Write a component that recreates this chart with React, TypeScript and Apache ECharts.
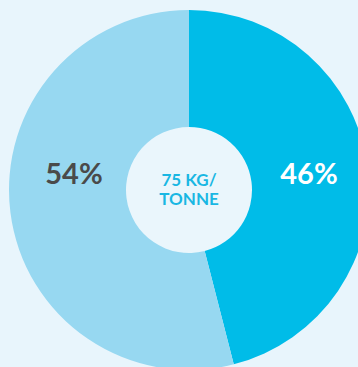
import React, { useEffect, useRef } from "react";
import * as echarts from "echarts";

const categories = ["Share A", "Share B"];
const shareValues = [46, 54];
const sliceColors = ["#00bce8", "#97d8f1"];
const labelColors = ["#ffffff", "#4a4a4a"];
const centerLines = ["75 KG/", "TONNE"];

export default function App() {
  const ref = useRef<HTMLDivElement>(null);
  useEffect(() => {
    document.body.style.margin = "0";
    const chart = echarts.init(ref.current!, null, { renderer: "svg" });
    const labelPos = [
      [309, 172],
      [74, 172],
    ];
    chart.setOption({
      animation: false,
      backgroundColor: "#e8f5fc",
      series: [
        {
          type: "pie",
          center: [189, 190],
          radius: [63, 180],
          startAngle: 90,
          clockwise: true,
          label: { show: false },
          labelLine: { show: false },
          emphasis: { disabled: true },
          itemStyle: { borderWidth: 0 },
          data: categories.map((c, i) => ({
            name: c,
            value: shareValues[i],
            itemStyle: { color: sliceColors[i] },
          })),
        },
      ],
      graphic: [
        {
          type: "circle",
          shape: { cx: 189, cy: 190, r: 63 },
          style: { fill: "#eaf6fc" },
          z: -1,
        },
        ...shareValues.map((v, i) => ({
          type: "text",
          x: labelPos[i][0],
          y: labelPos[i][1],
          z: 100,
          style: {
            text: v + "%",
            fill: labelColors[i],
            font: "bold 29px Lato",
            align: "center",
            verticalAlign: "middle",
          },
        })),
        ...centerLines.map((t, i) => ({
          type: "text",
          x: 189,
          y: 179 + i * 19.5,
          z: 100,
          style: {
            text: t,
            fill: "#19b7e3",
            font: "bold 17px Lato",
            align: "center",
            verticalAlign: "middle",
          },
        })),
      ],
    });
    return () => chart.dispose();
  }, []);
  return <div ref={ref} style={{ width: 358, height: 367 }} />;
}
